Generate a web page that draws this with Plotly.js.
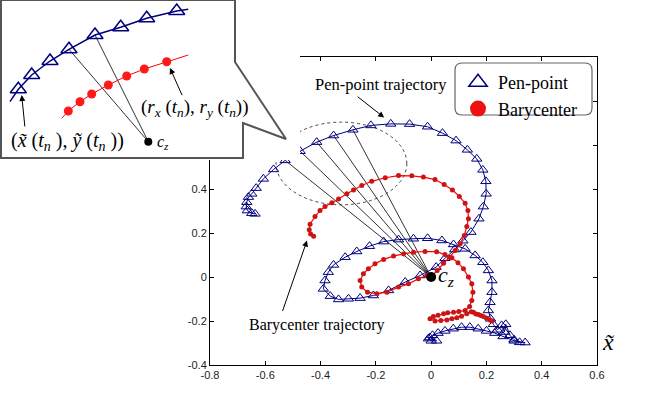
<!DOCTYPE html>
<html>
<head>
<meta charset="utf-8">
<script src="https://cdn.plot.ly/plotly-3.0.1.min.js"></script>
<style>
  html, body { margin: 0; padding: 0; background: #fff; }
  #plot { width: 646px; height: 406px; }
</style>
</head>
<body>
<div id="plot"></div>
<script>
// pen-point trajectory (triangles)
const penX = [-0.637, -0.649, -0.665, -0.669, -0.667, -0.661, -0.649, -0.633, -0.607, -0.570,
  -0.528, -0.474, -0.414, -0.353, -0.283, -0.218, -0.146, -0.078, -0.013, 0.041,
  0.090, 0.131, 0.165, 0.187, 0.198, 0.199, 0.189, 0.173, 0.144, 0.115,
  0.085, 0.050, 0.018, -0.040, -0.094, -0.154, -0.209, -0.257, -0.299, -0.335,
  -0.365, -0.390, -0.384, -0.372, -0.353, -0.311, -0.269, -0.223, -0.172, -0.118,
  -0.064, -0.013, 0.039, 0.081, 0.123, 0.159, 0.187, 0.207, 0.220, 0.220,
  0.213, 0.207, 0.215, 0.225, 0.240, 0.255, 0.265, 0.270, 0.285, 0.300,
  0.320, 0.340, 0.300, 0.260, 0.230, 0.200, 0.170, 0.140, 0.110, 0.080,
  0.050, 0.025, 0.005, -0.010, 0.000, 0.020, -0.005];
const penY = [0.287, 0.290, 0.302, 0.320, 0.340, 0.363, 0.378, 0.404, 0.446, 0.489,
  0.530, 0.572, 0.613, 0.643, 0.669, 0.689, 0.696, 0.695, 0.683, 0.654,
  0.620, 0.578, 0.537, 0.487, 0.435, 0.378, 0.320, 0.265, 0.204, 0.165,
  0.125, 0.085, 0.045, 0.007, -0.023, -0.061, -0.084, -0.096, -0.099, -0.102,
  -0.087, -0.054, -0.016, 0.022, 0.055, 0.090, 0.116, 0.140, 0.161, 0.170,
  0.174, 0.176, 0.166, 0.148, 0.128, 0.098, 0.067, 0.030, -0.016, -0.069,
  -0.115, -0.152, -0.190, -0.215, -0.240, -0.220, -0.250, -0.215, -0.265, -0.285,
  -0.297, -0.298, -0.290, -0.270, -0.255, -0.245, -0.235, -0.228, -0.228, -0.235,
  -0.245, -0.255, -0.265, -0.280, -0.290, -0.290, -0.275];

// barycenter trajectory (dots)
const baryX = [-0.425, -0.436, -0.441, -0.438, -0.420, -0.402, -0.384, -0.359, -0.335, -0.305,
  -0.281, -0.251, -0.215, -0.166, -0.118, -0.070, -0.028, 0.014, 0.047, 0.077,
  0.102, 0.123, 0.133, 0.135, 0.129, 0.120, 0.105, 0.087, 0.066, 0.045,
  0.022, 0.000, -0.016, -0.046, -0.082, -0.118, -0.160, -0.196, -0.230, -0.251,
  -0.257, -0.245, -0.227, -0.203, -0.172, -0.136, -0.100, -0.064, -0.022, 0.020,
  0.050, 0.075, 0.097, 0.117, 0.135, 0.147, 0.151, 0.147, 0.139, 0.123,
  0.100, 0.081, 0.060, 0.045, 0.025, 0.008, -0.004, 0.014, 0.035, 0.057,
  0.075, 0.093, 0.110, 0.129, 0.145, 0.153, 0.162, 0.171, 0.180, 0.189,
  0.200, 0.213, 0.220];
const baryY = [0.185, 0.195, 0.215, 0.240, 0.275, 0.302, 0.320, 0.337, 0.355, 0.378,
  0.396, 0.416, 0.435, 0.451, 0.461, 0.460, 0.454, 0.443, 0.420, 0.396,
  0.366, 0.335, 0.302, 0.265, 0.230, 0.189, 0.151, 0.120, 0.090, 0.062,
  0.030, 0.000, 0.007, -0.008, -0.031, -0.046, -0.069, -0.076, -0.069, -0.046,
  -0.016, 0.015, 0.037, 0.060, 0.080, 0.095, 0.105, 0.113, 0.116, 0.115,
  0.102, 0.087, 0.065, 0.037, 0.000, -0.031, -0.069, -0.107, -0.134, -0.152,
  -0.157, -0.160, -0.163, -0.167, -0.174, -0.180, -0.190, -0.200, -0.198, -0.195,
  -0.190, -0.185, -0.178, -0.167, -0.158, -0.160, -0.168, -0.170, -0.175, -0.180,
  -0.186, -0.195, -0.200];

const czX = [0], czY = [0];
const spokeIdx = [10, 11, 12, 13, 14];   // pen points joined to c_z
const ellipseX = [-0.561, -0.088], ellipseY = [0.328, 0.704];

const xTicks = [-0.8, -0.6, -0.4, -0.2, 0, 0.2, 0.4, 0.6];
const xTickText = ['-0.8', '-0.6', '-0.4', '-0.2', '0', '0.2', '0.4', '0.6'];
const yTicks = [-0.4, -0.2, 0, 0.2, 0.4, 0.6, 0.8, 1.0];
const yTickText = ['-0.4', '-0.2', '0', '0.2', '0.4', '', '', ''];  // upper labels sit under the inset

// magnified inset (its own coordinates)
const insetPenX = [10, 18.3, 31.7, 50, 69, 95, 120.7, 146.7, 176.7, 188.3];
const insetPenY = [101.7, 89.3, 75, 61, 49.3, 35, 27.3, 18.3, 11, 9.3];
const insetBaryX = [61.7, 68.3, 80, 91.7, 108.3, 126.7, 144.3, 166.7, 188.3];
const insetBaryY = [118.3, 111, 101.7, 94, 85, 76, 69, 61.7, 55];
const insetCzX = [148.3], insetCzY = [141.7];
const insetSpokeIdx = [4, 5];
const calloutX = [1, 235, 235, 286, 243, 243, 1, 1];
const calloutY = [0, 0, 62, 139, 123, 158, 158, 0];

const W = 646, H = 406;
const px = v => v / W, py = v => 1 - v / H;

const NAVY = '#00007f';
const RED = '#ff0000';
const SERIF = 'Liberation Serif, Times New Roman, serif';

function spokes(xs, ys, idx, cx, cy) {
  const sx = [], sy = [];
  idx.forEach(i => { sx.push(cx, xs[i], null); sy.push(cy, ys[i], null); });
  return { sx, sy };
}

const main = spokes(penX, penY, spokeIdx, czX[0], czY[0]);
const ins = spokes(insetPenX, insetPenY, insetSpokeIdx, insetCzX[0], insetCzY[0]);

const traces = [
  { x: main.sx, y: main.sy, mode: 'lines', line: { color: '#333', width: 1 }, showlegend: false, hoverinfo: 'skip' },
  { x: penX, y: penY, mode: 'lines+markers', line: { color: NAVY, width: 1 },
    marker: { symbol: 'triangle-up-open', size: 9, color: NAVY, line: { width: 1 } }, showlegend: false },
  { x: baryX, y: baryY, mode: 'lines+markers', line: { color: RED, width: 1.2 },
    marker: { symbol: 'circle', size: 5, color: '#cc1414' }, showlegend: false },
  { x: czX, y: czY, mode: 'markers', marker: { color: '#000', size: 10 }, showlegend: false },
  // legend entries
  { x: [null], y: [null], mode: 'markers', name: 'Pen-point',
    marker: { symbol: 'triangle-up-open', size: 16, color: NAVY, line: { width: 1.5 } } },
  { x: [null], y: [null], mode: 'markers', name: 'Barycenter',
    marker: { symbol: 'circle', size: 16, color: '#ee1111' } },
  // inset
  { x: calloutX, y: calloutY, xaxis: 'x2', yaxis: 'y2', mode: 'lines', fill: 'toself',
    fillcolor: '#fff', line: { color: '#555', width: 2 }, showlegend: false, hoverinfo: 'skip' },
  { x: ins.sx, y: ins.sy, xaxis: 'x2', yaxis: 'y2', mode: 'lines', line: { color: '#333', width: 1 }, showlegend: false },
  { x: insetPenX, y: insetPenY, xaxis: 'x2', yaxis: 'y2', mode: 'lines', line: { color: NAVY, width: 1.5 }, showlegend: false },
  { x: insetPenX.slice(1, -1), y: insetPenY.slice(1, -1), xaxis: 'x2', yaxis: 'y2', mode: 'markers',
    marker: { symbol: 'triangle-up-open', size: 14, color: NAVY, line: { width: 1.5 } }, showlegend: false },
  { x: insetBaryX, y: insetBaryY, xaxis: 'x2', yaxis: 'y2', mode: 'lines', line: { color: RED, width: 1 }, showlegend: false },
  { x: insetBaryX.slice(1, -1), y: insetBaryY.slice(1, -1), xaxis: 'x2', yaxis: 'y2', mode: 'markers',
    marker: { symbol: 'circle', size: 9, color: '#ff1a1a' }, showlegend: false },
  { x: insetCzX, y: insetCzY, xaxis: 'x2', yaxis: 'y2', mode: 'markers', marker: { color: '#000', size: 8 }, showlegend: false }
];

function roundRect(x0, y0, x1, y1, r) {
  const rx = r / W, ry = r / H;
  const a = px(x0), b = px(x1), t = py(y0), u = py(y1);
  return `M${a + rx},${t} L${b - rx},${t} Q${b},${t} ${b},${t - ry} L${b},${u + ry} Q${b},${u} ${b - rx},${u} ` +
    `L${a + rx},${u} Q${a},${u} ${a},${u + ry} L${a},${t - ry} Q${a},${t} ${a + rx},${t} Z`;
}

const tickFont = { family: 'Liberation Sans, Arial, sans-serif', size: 11, color: '#222' };

const layout = {
  width: W, height: H,
  margin: { l: 0, r: 0, t: 0, b: 0 },
  paper_bgcolor: '#fff', plot_bgcolor: '#fff',
  xaxis: {
    domain: [px(210), px(597)], range: [-0.8, 0.6],
    tickvals: xTicks, ticktext: xTickText, tickfont: tickFont,
    ticks: 'inside', ticklen: 4, tickcolor: '#000',
    showline: true, linecolor: '#000', linewidth: 1, mirror: 'ticks',
    showgrid: false, zeroline: false
  },
  yaxis: {
    domain: [py(365), py(57)], range: [-0.4, 1.0],
    tickvals: yTicks, ticktext: yTickText, tickfont: tickFont,
    ticks: 'inside', ticklen: 4, tickcolor: '#000',
    showline: true, linecolor: '#000', linewidth: 1, mirror: 'ticks',
    showgrid: false, zeroline: false
  },
  xaxis2: { domain: [0, px(300)], range: [0, 300], visible: false, anchor: 'y2' },
  yaxis2: { domain: [py(160), 1], range: [160, 0], visible: false, anchor: 'x2' },
  showlegend: true,
  legend: {
    x: px(458), y: py(64), xanchor: 'left', yanchor: 'top',
    bgcolor: 'rgba(0,0,0,0)', borderwidth: 0,
    font: { family: SERIF, size: 18, color: '#000' }, tracegroupgap: 0
  },
  shapes: [
    { type: 'circle', xref: 'x', yref: 'y', layer: 'below',
      x0: ellipseX[0], x1: ellipseX[1], y0: ellipseY[0], y1: ellipseY[1],
      line: { color: '#444', width: 1, dash: 'dot' } },
    { type: 'path', xref: 'paper', yref: 'paper', layer: 'below',
      path: roundRect(455, 63, 592, 115, 7), line: { color: '#666', width: 1.2 } }
  ],
  annotations: [
    { xref: 'x', yref: 'y', x: -0.183, y: 0.873, text: 'Pen-point trajectory', showarrow: false,
      font: { family: SERIF, size: 16.5, color: '#000' } },
    { xref: 'x', yref: 'y', x: -0.170, y: 0.725, ax: -28, ay: -22, text: '', showarrow: true,
      arrowhead: 2, arrowsize: 1.2, arrowwidth: 1, arrowcolor: '#000' },
    { xref: 'x', yref: 'y', x: -0.416, y: -0.22, text: 'Barycenter trajectory', showarrow: false,
      font: { family: SERIF, size: 16, color: '#000' } },
    { xref: 'x', yref: 'y', x: -0.449, y: 0.166, ax: -25, ay: 72, text: '', showarrow: true,
      arrowhead: 2, arrowsize: 1.2, arrowwidth: 1, arrowcolor: '#000' },
    { xref: 'x', yref: 'y', x: 0.018, y: 0.005, xanchor: 'left', text: '<i>c</i><sub><i>z</i></sub>',
      showarrow: false, font: { family: SERIF, size: 22, color: '#000' } },
    { xref: 'paper', yref: 'paper', x: px(617), y: py(357), text: '<i>x̃</i>', showarrow: false,
      font: { family: SERIF, size: 24, color: '#000' } },
    // inset labels
    { xref: 'x2', yref: 'y2', x: 67, y: 141, showarrow: false,
      text: '(<i>x̃</i> (<i>t<sub>n</sub></i> ), <i>ỹ</i> (<i>t<sub>n</sub></i> ))',
      font: { family: SERIF, size: 20, color: '#000' } },
    { xref: 'x2', yref: 'y2', x: 21.7, y: 95, axref: 'x2', ayref: 'y2', ax: 25, ay: 128, text: '',
      showarrow: true, arrowhead: 2, arrowsize: 1.2, arrowwidth: 1, arrowcolor: '#000' },
    { xref: 'x2', yref: 'y2', x: 194, y: 108, showarrow: false,
      text: '(<i>r<sub>x</sub></i> (<i>t<sub>n</sub></i>), <i>r<sub>y</sub></i> (<i>t<sub>n</sub></i>))',
      font: { family: SERIF, size: 19, color: '#000' } },
    { xref: 'x2', yref: 'y2', x: 170, y: 68, axref: 'x2', ayref: 'y2', ax: 182.7, ay: 96.7, text: '',
      showarrow: true, arrowhead: 2, arrowsize: 1.2, arrowwidth: 1, arrowcolor: '#000' },
    { xref: 'x2', yref: 'y2', x: 155, y: 142, xanchor: 'left', showarrow: false,
      text: '<i>c</i><sub><i>z</i></sub>', font: { family: SERIF, size: 16, color: '#000' } }
  ]
};

Plotly.newPlot('plot', traces, layout, { staticPlot: true });
</script>
</body>
</html>
